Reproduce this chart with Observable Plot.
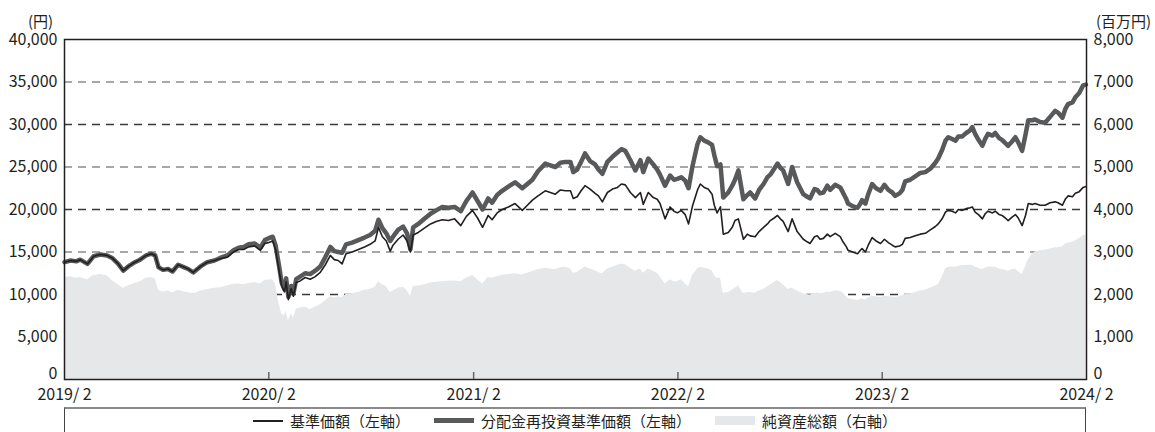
<!DOCTYPE html>
<html><head><meta charset="utf-8">
<script src="https://cdn.jsdelivr.net/npm/d3@7"></script>
<script src="https://cdn.jsdelivr.net/npm/@observablehq/plot@0.6"></script>
<style>
html,body{margin:0;padding:0;background:#fff;}
body{width:1155px;height:432px;overflow:hidden;font-family:"Noto Sans CJK JP","Noto Sans",sans-serif;color:#231f20;}
#legend{position:absolute;left:64px;top:407px;width:1020px;height:23px;border-top:2px solid #8a8a8a;border-left:1.5px solid #444;border-right:1.5px solid #444;display:flex;justify-content:center;align-items:center;font-size:15px;line-height:1;}
.item{display:flex;align-items:center;margin:0 12px;}
.sw{display:inline-block;margin-right:7px;}
</style>
</head><body>
<div id="chart"></div>
<div id="legend">
  <div class="item"><span class="sw" style="width:30px;height:2px;background:#231f20"></span><span>基準価額（左軸）</span></div>
  <div class="item"><span class="sw" style="width:40px;height:5px;background:#58595b"></span><span>分配金再投資基準価額（左軸）</span></div>
  <div class="item"><span class="sw" style="width:40px;height:9px;background:#e6e7e8"></span><span>純資産総額（右軸）</span></div>
</div>
<script>
const dates = ["2019-02-01","2019-02-12","2019-02-22","2019-03-01","2019-03-14","2019-03-25","2019-04-06","2019-04-18","2019-04-27","2019-05-08","2019-05-17","2019-05-26","2019-06-04","2019-06-16","2019-06-27","2019-07-06","2019-07-13","2019-07-19","2019-07-27","2019-08-05","2019-08-13","2019-08-23","2019-09-03","2019-09-10","2019-09-19","2019-10-02","2019-10-14","2019-10-27","2019-11-06","2019-11-19","2019-11-30","2019-12-09","2019-12-18","2019-12-27","2020-01-07","2020-01-17","2020-01-25","2020-01-31","2020-02-08","2020-02-13","2020-02-19","2020-02-24","2020-02-29","2020-03-03","2020-03-07","2020-03-12","2020-03-16","2020-03-21","2020-03-28","2020-04-06","2020-04-15","2020-04-24","2020-05-03","2020-05-12","2020-05-21","2020-05-28","2020-06-04","2020-06-11","2020-06-18","2020-06-29","2020-07-10","2020-07-21","2020-07-31","2020-08-09","2020-08-15","2020-08-22","2020-08-29","2020-09-05","2020-09-10","2020-09-19","2020-09-28","2020-10-05","2020-10-11","2020-10-16","2020-10-25","2020-11-05","2020-11-16","2020-11-26","2020-12-07","2020-12-18","2020-12-29","2021-01-09","2021-01-19","2021-01-30","2021-02-08","2021-02-17","2021-02-27","2021-03-06","2021-03-15","2021-03-24","2021-04-04","2021-04-16","2021-04-29","2021-05-08","2021-05-17","2021-05-27","2021-06-09","2021-06-18","2021-06-27","2021-07-06","2021-07-15","2021-07-24","2021-07-29","2021-08-05","2021-08-12","2021-08-19","2021-08-28","2021-09-06","2021-09-12","2021-09-19","2021-09-28","2021-10-07","2021-10-16","2021-10-23","2021-10-30","2021-11-08","2021-11-17","2021-11-26","2021-12-01","2021-12-10","2021-12-19","2021-12-26","2021-12-31","2022-01-09","2022-01-18","2022-01-25","2022-01-31","2022-02-07","2022-02-14","2022-02-20","2022-02-27","2022-03-08","2022-03-13","2022-03-20","2022-03-27","2022-04-03","2022-04-07","2022-04-12","2022-04-18","2022-04-23","2022-05-02","2022-05-09","2022-05-14","2022-05-20","2022-05-29","2022-06-05","2022-06-10","2022-06-19","2022-06-26","2022-07-04","2022-07-11","2022-07-16","2022-07-23","2022-07-29","2022-08-03","2022-08-08","2022-08-17","2022-08-24","2022-09-02","2022-09-13","2022-09-20","2022-09-25","2022-10-03","2022-10-08","2022-10-13","2022-10-19","2022-10-26","2022-10-31","2022-11-09","2022-11-18","2022-11-22","2022-11-29","2022-12-02","2022-12-10","2022-12-19","2022-12-24","2022-12-27","2023-01-02","2023-01-07","2023-01-14","2023-01-21","2023-01-29","2023-02-05","2023-02-12","2023-02-19","2023-02-24","2023-03-04","2023-03-09","2023-03-14","2023-03-23","2023-04-01","2023-04-10","2023-04-19","2023-04-28","2023-05-07","2023-05-12","2023-05-19","2023-05-25","2023-05-30","2023-06-06","2023-06-12","2023-06-17","2023-06-24","2023-07-01","2023-07-08","2023-07-12","2023-07-17","2023-07-23","2023-07-30","2023-08-04","2023-08-09","2023-08-17","2023-08-22","2023-08-29","2023-09-03","2023-09-09","2023-09-14","2023-09-21","2023-09-27","2023-10-02","2023-10-09","2023-10-15","2023-10-20","2023-10-27","2023-11-01","2023-11-10","2023-11-19","2023-11-28","2023-12-07","2023-12-12","2023-12-20","2023-12-25","2023-12-30","2024-01-07","2024-01-12","2024-01-19","2024-01-26","2024-01-31"];

// 基準価額 (円)
const nav = [13800,14000,13900,14100,13600,14500,14700,14600,14300,13600,12800,13300,13700,14100,14600,14800,14600,13200,12900,13000,12700,13500,13200,13000,12600,13300,13800,14000,14200,14400,15000,15300,15300,15600,15700,15200,16000,16100,16300,15300,13000,11000,10300,11500,9400,10700,9800,11400,11600,12000,11800,12100,12600,13500,14600,14100,14000,13600,14800,15000,15300,15600,15900,16300,17900,16800,16300,15100,15800,16500,17000,16300,15000,17000,17300,17800,18300,18600,18800,18700,18900,18100,19200,19900,19000,17900,19300,18800,19600,20000,20300,20700,19900,20500,21100,21600,22200,22000,21800,22300,22200,22200,21300,21500,22200,22800,22400,21900,21600,20900,22000,22400,22600,23000,22900,22000,21400,22000,20600,22000,21400,21200,20700,18900,20300,19800,19600,19900,19400,18300,20400,22300,23000,22600,22400,21800,20500,19600,20300,17100,17300,17900,18700,18900,16500,17100,16900,16800,17400,17900,18300,18700,19000,19300,18900,18600,17400,18900,17400,16500,16200,16000,16800,16900,16500,16600,17100,16800,17200,16800,16300,15600,15200,15000,14800,15200,15400,15000,15800,16700,16300,16000,16500,16100,15800,15600,15700,15900,16600,16700,16900,17100,17200,17600,18000,18300,18900,19700,19900,19800,19600,20000,19900,20100,20200,20300,19700,19400,18900,19500,19800,19600,19800,19400,19300,19000,18700,19100,19400,19000,18100,19300,20700,20600,20700,20500,20500,20800,20900,20800,20500,21200,21600,21500,21900,22100,22600,22700];

// 分配金再投資基準価額 (円)
const reinvested = [13800,14000,13900,14100,13600,14500,14700,14600,14300,13600,12800,13300,13700,14100,14600,14800,14600,13200,12900,13000,12700,13500,13200,13000,12600,13300,13800,14000,14300,14600,15200,15500,15600,15900,16000,15500,16400,16600,16800,15800,13500,11400,10600,11900,9700,11000,10100,11800,12100,12500,12400,12800,13300,14400,15600,15100,15000,14900,15900,16100,16400,16700,17000,17500,18800,17800,17200,16300,16800,17600,18000,17200,15300,17900,18300,18900,19500,19900,20300,20200,20300,19800,21000,22000,21000,20000,21300,20800,21700,22200,22700,23200,22500,23000,23500,24500,25400,25200,25000,25500,25600,25600,24400,24700,25600,26600,25700,25300,24700,24200,25600,26200,26700,27100,26900,25800,24600,25800,24400,26000,25300,24700,24100,22800,24000,23500,23600,23800,23400,22500,25100,27700,28500,28100,27900,27600,26400,25100,25300,21400,22000,22800,23500,24600,21200,21700,22000,21300,22300,23000,23800,24100,24800,25400,24900,24600,23000,25000,23200,21800,21500,21300,22400,22300,21900,22000,22800,22300,22900,22600,22100,21200,20700,20400,20200,20700,21100,20700,21800,23000,22500,22200,22900,22300,22000,21600,21900,22300,23300,23500,23900,24300,24400,24800,25500,26000,27000,28100,28500,28300,28100,28600,28600,29000,29300,29700,28900,28200,27500,28300,28900,28700,29000,28400,28200,27800,27500,28000,28500,27900,26900,28800,30500,30500,30600,30300,30200,30900,31600,31400,30800,31800,32400,32600,33200,33700,34600,34700];

// 純資産総額 (百万円)
const netAssets = [2400,2420,2380,2400,2350,2450,2470,2440,2330,2230,2150,2200,2250,2300,2380,2400,2370,2100,2060,2080,2040,2100,2060,2050,2010,2080,2120,2150,2160,2200,2240,2250,2230,2260,2280,2250,2330,2340,2350,2250,1800,1550,1500,1620,1380,1550,1450,1650,1680,1700,1650,1700,1760,1850,1950,1920,1940,1930,2000,2020,2050,2100,2120,2170,2300,2230,2180,2050,2080,2150,2170,2100,1960,2180,2200,2230,2270,2290,2300,2310,2320,2300,2380,2450,2350,2250,2400,2380,2420,2450,2470,2490,2460,2500,2540,2580,2620,2600,2590,2630,2640,2600,2500,2520,2580,2650,2600,2560,2520,2480,2600,2640,2680,2720,2700,2620,2550,2600,2500,2600,2550,2500,2420,2250,2350,2300,2300,2350,2250,2180,2450,2600,2640,2620,2600,2560,2450,2380,2380,2030,2050,2100,2150,2200,2020,2050,2050,2030,2080,2120,2180,2220,2280,2330,2280,2230,2120,2150,2080,2020,2000,1990,2030,2040,2020,2030,2060,2050,2090,2070,2050,1950,1900,1880,1860,1880,1900,1870,1920,1960,1950,1930,1960,1950,1940,1930,1950,1970,2000,2010,2040,2080,2100,2150,2200,2230,2400,2600,2640,2650,2640,2660,2680,2680,2690,2690,2650,2620,2580,2620,2650,2640,2650,2600,2590,2570,2550,2580,2600,2540,2470,2650,2820,2950,3000,3030,3040,3070,3100,3100,3120,3180,3210,3230,3260,3310,3380,3400];

const leftTicks = [0,5000,10000,15000,20000,25000,30000,35000,40000];
const rightTicks = [0,1000,2000,3000,4000,5000,6000,7000,8000];
const gridValues = [5000,10000,15000,20000,25000,30000,35000];
const xTickDates = ["2019-02-01","2020-02-01","2021-02-01","2022-02-01","2023-02-01","2024-02-01"];
const leftUnit = "(円)";
const rightUnit = "(百万円)";

const ratio = leftTicks[leftTicks.length-1] / rightTicks[rightTicks.length-1];
const data = dates.map((d,i) => ({date: new Date(d), nav: nav[i], re: reinvested[i], assets: netAssets[i]}));
const xTicks = xTickDates.map(d => new Date(d));
const fmt = d3.format(",");
const font = '"Noto Sans CJK JP","Noto Sans",sans-serif';

const chart = Plot.plot({
  width: 1155, height: 406,
  marginLeft: 64, marginRight: 69, marginTop: 39, marginBottom: 27,
  style: {fontFamily: font, fontSize: "16px", color: "#231f20", background: "#fff"},
  x: {type: "utc", domain: [xTicks[0], xTicks[xTicks.length-1]], axis: null},
  y: {domain: [0, leftTicks[leftTicks.length-1]], axis: null},
  marks: [
    Plot.ruleY(gridValues, {stroke: d => d % 10000 === 0 ? "#3a3a3a" : "#8a8a8a", strokeWidth: 1.4, strokeDasharray: "8,6"}),
    Plot.areaY(data, {x: "date", y: d => d.assets * ratio, fill: "#e6e7e8", curve: "linear"}),
    Plot.line(data, {x: "date", y: "re", stroke: "#58595b", strokeWidth: 4.5, strokeLinejoin: "round"}),
    Plot.line(data, {x: "date", y: "nav", stroke: "#231f20", strokeWidth: 1.6, strokeLinejoin: "round"}),
    Plot.frame({stroke: "#231f20", strokeWidth: 1.5}),
    Plot.axisX({ticks: xTicks.slice(1, -1), tickSize: -7, tickFormat: () => "", stroke: "#666", strokeWidth: 1.5}),
    Plot.axisX({ticks: xTicks, tickSize: 0, tickPadding: 9, tickFormat: d => `${d.getUTCFullYear()}/ ${d.getUTCMonth()+1}`, fontSize: 16, fill: "#231f20"}),
    Plot.axisY({anchor: "left", ticks: leftTicks.slice(1), tickSize: 0, tickPadding: 7, tickFormat: fmt, fontSize: 16, fill: "#231f20"}),
    Plot.axisY({anchor: "left", ticks: leftTicks.slice(0, 1), tickSize: 0, tickPadding: 7, dy: -6, tickFormat: fmt, fontSize: 16, fill: "#231f20"}),
    Plot.axisY({anchor: "right", ticks: rightTicks.slice(1).map(v => v * ratio), tickSize: 0, tickPadding: 7, tickFormat: v => fmt(v / ratio), fontSize: 16, fill: "#231f20"}),
    Plot.axisY({anchor: "right", ticks: rightTicks.slice(0, 1).map(v => v * ratio), tickSize: 0, tickPadding: 7, dy: -6, tickFormat: v => fmt(v / ratio), fontSize: 16, fill: "#231f20"}),
    Plot.text([leftUnit], {frameAnchor: "top-left", dx: -24, dy: -23, text: d => d, textAnchor: "middle", fontSize: 15, fill: "#231f20"}),
    Plot.text([rightUnit], {frameAnchor: "top-right", dx: 37, dy: -23, text: d => d, textAnchor: "middle", fontSize: 15, fill: "#231f20"})
  ]
});
document.getElementById("chart").appendChild(chart);
</script>
</body></html>
